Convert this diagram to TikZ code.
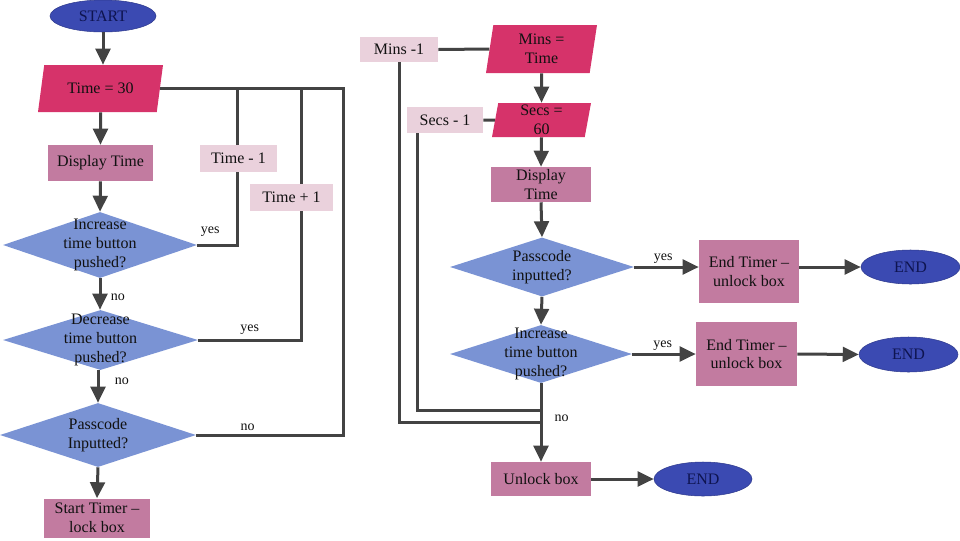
\documentclass[tikz,border=0pt]{standalone}
\usepackage{fontspec}
\setmainfont{Liberation Serif}
\newfontfamily\tfont{Liberation Serif}
\usetikzlibrary{shapes.geometric,arrows.meta,calc}
\definecolor{ovalblue}{HTML}{3B4AB2}
\definecolor{ovaltext}{HTML}{0E1450}
\definecolor{crimson}{HTML}{D6336A}
\definecolor{mauve}{HTML}{C27BA0}
\definecolor{pale}{HTML}{EAD1DC}
\definecolor{decblue}{HTML}{7A93D4}
\definecolor{linegray}{HTML}{434343}
\definecolor{txt}{HTML}{111111}
\begin{document}
\begin{tikzpicture}[x=0.75pt,y=-0.75pt,
  base/.style={font=\tfont\fontsize{12}{14}\selectfont, text=txt, align=center, inner sep=0pt},
  oval/.style={base, ellipse, fill=ovalblue, draw=ovalblue!80!black, line width=0.4pt, text=ovaltext},
  io/.style={base, trapezium, fill=crimson, trapezium stretches body},
  proc/.style={base, rectangle, fill=mauve},
  note/.style={base, rectangle, fill=pale},
  dec/.style={diamond, fill=decblue, inner sep=0pt},
  dtext/.style={base},
  conn/.style={draw=linegray, line width=2.25pt},
  arr/.style={conn, -{Triangle[length=12pt,width=11pt]}},
  lbl/.style={font=\tfont\fontsize{10.5}{12}\selectfont, text=txt, inner sep=1pt},
]
\useasboundingbox (0,0) rectangle (960,540);

% ---------- left column ----------
\node[oval, minimum width=79.5pt, minimum height=24pt] (start) at (103,16) {START};
\node[io, minimum width=93.75pt, minimum height=35.25pt, trapezium left angle=60, trapezium right angle=120] (t30) at (100.5,88.5) {Time = 30};
\node[proc, minimum width=78.75pt, minimum height=27pt] (dispL) at (100.5,163) {Display Time};
\node[dec, minimum width=145.5pt, minimum height=49.5pt, label={[dtext]center:{Increase\\time button\\pushed?}}] (d1) at (100,245) {};
\node[dec, minimum width=146.25pt, minimum height=45pt, label={[dtext]center:{Decrease\\time button\\pushed?}}] (d2) at (100.5,340) {};
\node[dec, minimum width=147pt, minimum height=48pt, label={[dtext]center:{Passcode\\Inputted?}}] (d3) at (98,435) {};
\node[proc, minimum width=79.5pt, minimum height=29.25pt] (stt) at (97,518) {Start Timer \textendash\\lock box};
\node[note, minimum width=57.75pt, minimum height=20.25pt] (tm1) at (238.5,158.5) {Time - 1};
\node[note, minimum width=62.25pt, minimum height=20.25pt] (tp1) at (291.5,197.5) {Time + 1};

% ---------- right column ----------
\node[note, minimum width=58.5pt, minimum height=18.75pt] (mm1) at (399,49.5) {Mins -1};
\node[io, minimum width=83.25pt, minimum height=36pt, trapezium left angle=76, trapezium right angle=104] (mins) at (541.5,49) {Mins =\\Time};
\node[note, minimum width=57pt, minimum height=19.5pt] (sm1) at (445,120) {Secs - 1};
\node[io, minimum width=74.25pt, minimum height=25.5pt, trapezium left angle=78, trapezium right angle=102] (secs) at (541.5,120) {Secs =\\60};
\node[proc, minimum width=75pt, minimum height=26.25pt] (dispR) at (541,184.5) {Display\\Time};
\node[dec, minimum width=138pt, minimum height=44.25pt, label={[dtext]center:{Passcode\\inputted?}}] (dp) at (542,267) {};
\node[dec, minimum width=136.5pt, minimum height=43.5pt, label={[dtext]center:{Increase\\time button\\pushed?}}] (di) at (541,354) {};
\node[proc, minimum width=75pt, minimum height=47.25pt] (et1) at (749,271.5) {End Timer \textendash\\unlock box};
\node[proc, minimum width=75.75pt, minimum height=48pt] (et2) at (746.5,354) {End Timer \textendash\\unlock box};
\node[proc, minimum width=75pt, minimum height=25.5pt] (unl) at (541,479) {Unlock box};
\node[oval, minimum width=74.25pt, minimum height=25.5pt] (end1) at (910.5,267) {END};
\node[oval, minimum width=74.25pt, minimum height=26.25pt] (end2) at (908.5,354.5) {END};
\node[oval, minimum width=73.5pt, minimum height=25.5pt] (end3) at (703,479) {END};

% ---------- helper coordinates ----------
\coordinate (rx) at (343,0);
\coordinate (ax) at (237,0);
\coordinate (bx) at (301,0);
\coordinate (sx) at (417,0);
\coordinate (jm) at (541,422);
\coordinate (js) at (541,410);

% ---------- left connectors ----------
\draw[arr] (start.south) -- (start.south |- t30.north);
\draw[arr] (t30.south) -- (dispL.north);
\draw[arr] (dispL.south) -- (d1.north);
\draw[arr] (d1.south) -- node[lbl, right=6pt, pos=0.6]{no} (d1.south |- d2.north);
\draw[arr] (d3.north |- d2.south) -- node[lbl, right=10.5pt, pos=0.33]{no} (d3.north);
\draw[arr] (d3.south) -- (stt.north);
\draw[conn] (t30.east) -- (t30.east -| rx) -- (d3.east -| rx) -- node[lbl, above=1.5pt, pos=0.65]{no} (d3.east);
\draw[conn] (ax |- t30.east) -- (ax |- tm1.north);
\draw[conn] (ax |- tm1.south) -- (ax |- d1.east) -- node[lbl, above=4pt, pos=0.675]{yes} (d1.east);
\draw[conn] (bx |- t30.east) -- (bx |- tp1.north);
\draw[conn] (bx |- tp1.south) -- (bx |- d2.east) -- node[lbl, above=2pt, pos=0.5]{yes} (d2.east);

% ---------- right connectors ----------
\draw[conn] (mm1.east) -- (mins.west);
\draw[arr] (mins.south) -- (secs.north);
\draw[conn] (sm1.east) -- (secs.west);
\draw[arr] (secs.south) -- (dispR.north);
\draw[arr] (dispR.south) -- (dp.north);
\draw[arr] (dp.east) -- node[lbl, above=0.5pt, pos=0.45]{yes} (dp.east -| et1.west);
\draw[arr] (et1.east |- end1.west) -- (end1.west);
\draw[arr] (dp.south) -- (di.north);
\draw[arr] (di.east) -- node[lbl, above=0.5pt, pos=0.48]{yes} (di.east -| et2.west);
\draw[arr] (et2.east) -- (end2.west);
\draw[arr] (di.south) -- node[lbl, right=8pt, pos=0.45]{no} (unl.north);
\draw[conn] (mm1.south) |- (jm);
\draw[conn] (sx |- sm1.south) |- (js);
\draw[arr] (unl.east) -- (end3.west);
\end{tikzpicture}
\end{document}
